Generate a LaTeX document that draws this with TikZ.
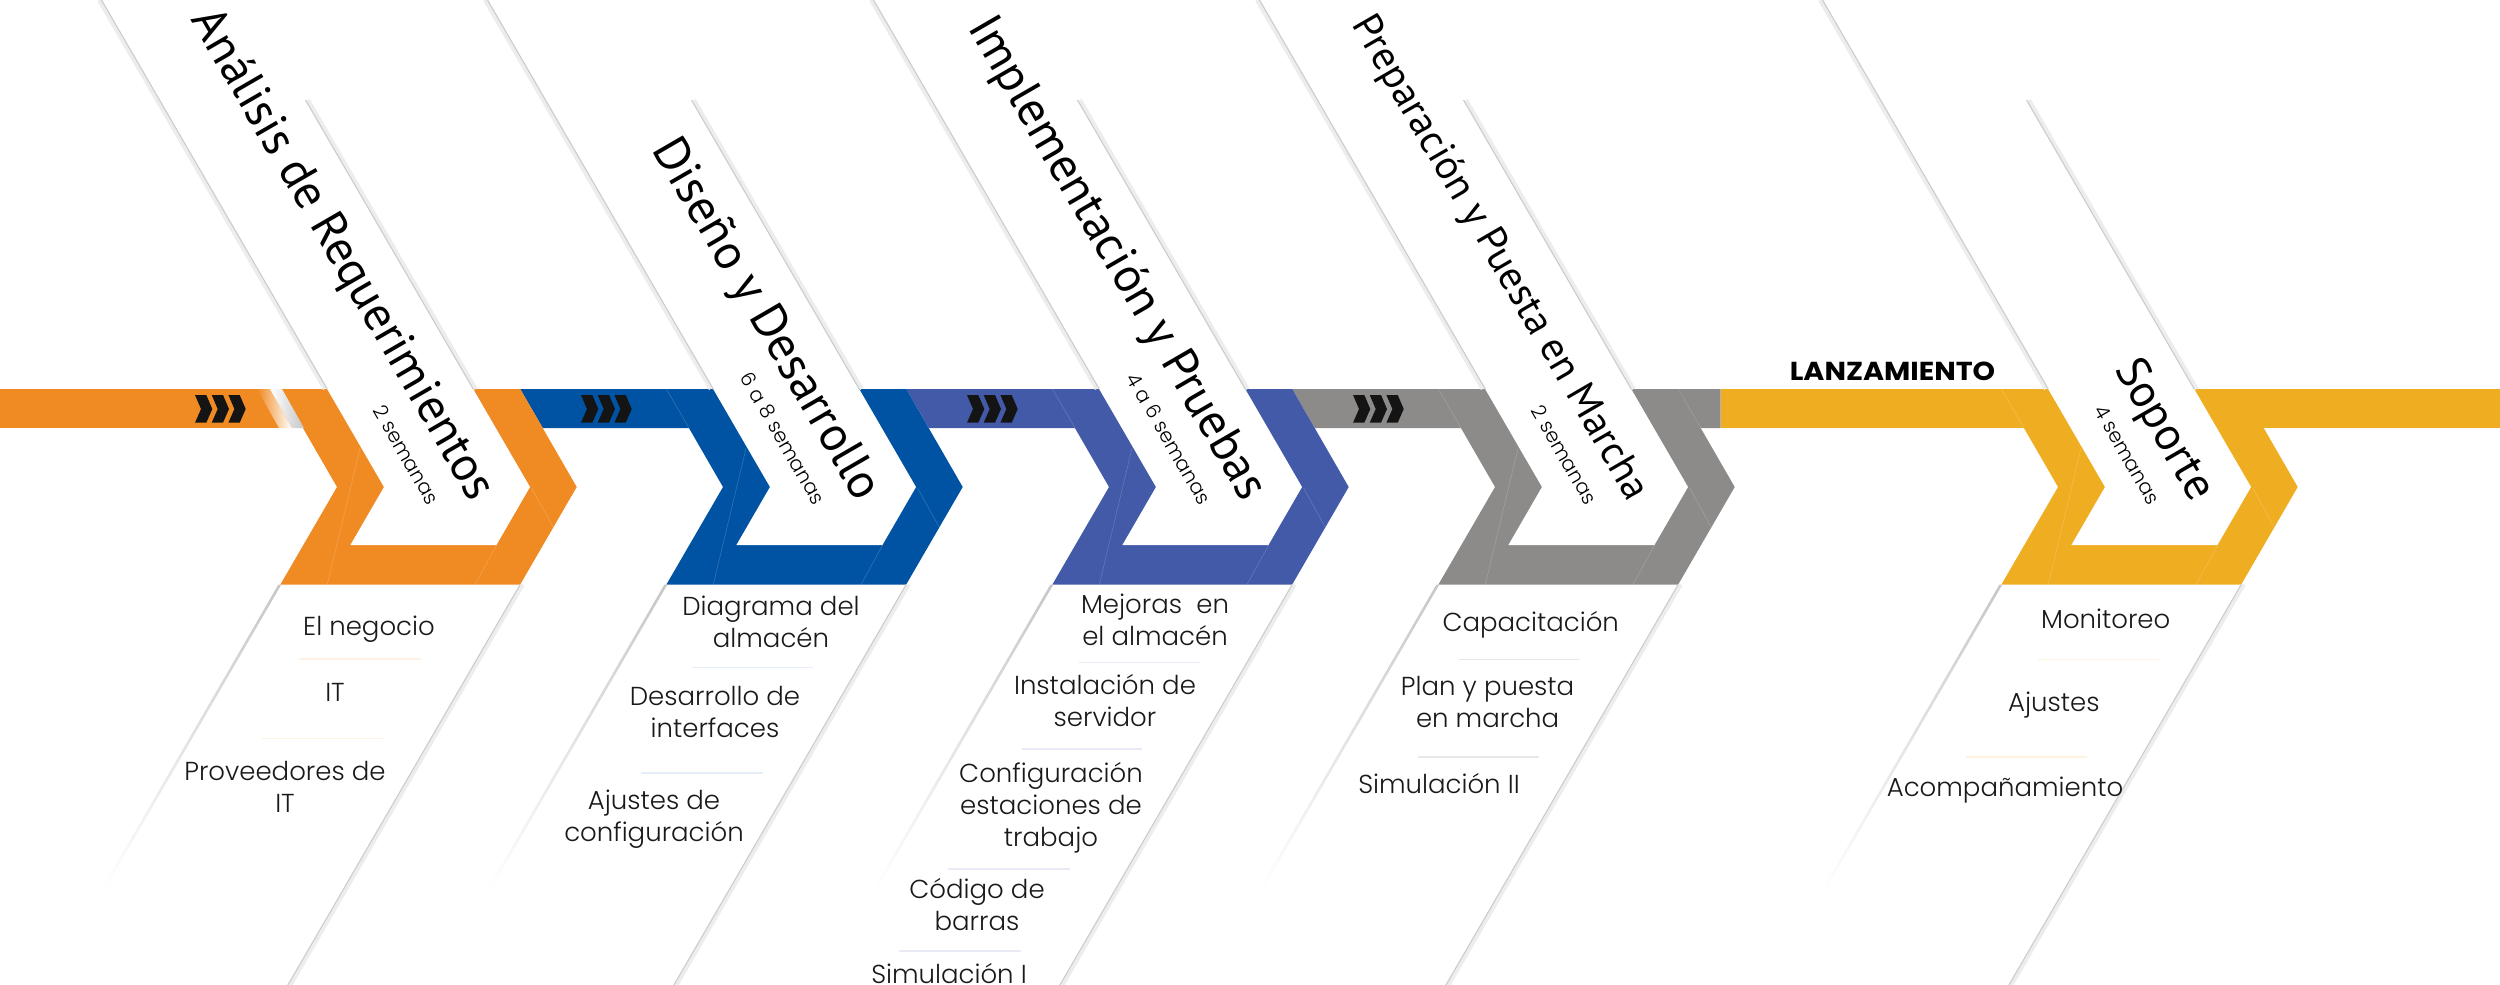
\documentclass[tikz,border=0pt]{standalone}
\usepackage{fontspec}
\usepackage{graphicx}
\newfontfamily\titlefont{PT Sans}
\newfontfamily\boldfont{Poppins}
\IfFontExistsTF{Poppins Light}{\newfontfamily\itemfont{Poppins Light}}{\newfontfamily\itemfont{Poppins}}
\definecolor{cOrange}{RGB}{240,139,35}
\definecolor{cBlue}{RGB}{0,83,163}
\definecolor{cIndigo}{RGB}{66,90,167}
\definecolor{cGray}{RGB}{140,139,137}
\definecolor{cYellow}{RGB}{239,174,33}
\newcommand{\itx}[1]{\begin{tabular}[t]{@{}c@{}}#1\end{tabular}}
\begin{document}
\begin{tikzpicture}[x=1pt,y=-1pt,
  item/.style={font=\itemfont\fontsize{26}{32}\selectfont, text=black!90, inner sep=0pt, anchor=base},
  ttl/.style={font=\titlefont\fontsize{50}{60}\selectfont, text=black, inner sep=0pt, anchor=base east, rotate=-59.9},
  sub/.style={font=\itemfont\fontsize{20}{24}\selectfont, text=black, inner sep=0pt, anchor=base east, rotate=-59.9},
  sepline/.style={line width=1.6pt},
  edgeline/.style={draw=black!20, line width=1.1pt},
  edgeblur/.style={draw=black!7, line width=4pt},
  seam/.style={draw=white, draw opacity=0.18, line width=0.6pt},
  iconshape/.style={fill=black!92}]
\useasboundingbox (0,0) rectangle (2500,985);
\fill[white] (0,0) rectangle (2500,985);

% ---- bands
\fill[cOrange] (0,389) rectangle (384,428);
\fill[cBlue] (520.2,389) -- (770,389) -- (770,428) -- (542.8,428) -- cycle;
\fill[cIndigo] (906.2,389) -- (1156,389) -- (1156,428) -- (928.8,428) -- cycle;
\fill[cGray] (1292.2,389) -- (1542,389) -- (1542,428) -- (1314.8,428) -- cycle;
\fill[cGray] (1678.2,389) -- (1720.5,389) -- (1720.5,428) -- (1700.8,428) -- cycle;
\fill[cYellow] (1720.5,389) rectangle (2500,428);

% ---- chevrons
\foreach \N/\c in {384/cOrange,770/cBlue,1156/cIndigo,1542/cGray,2105/cYellow}{
  \fill[\c] (\N-103.6,389) -- (\N-47,487) -- (\N-103.6,584.5) -- (\N+136.2,584.5)
     -- (\N+192.7,487) -- (\N+136.2,389) -- cycle;
  \draw[seam] (\N-103.6,389) -- (\N-81,428);
  \draw[seam] (\N-24,448.3) -- (\N-56.7,584.5);
  \draw[seam] (\N+112.7,545) -- (\N+91,584.5);
  \draw[seam] (\N+147.7,488.3) -- (\N+169,526.7);
}

% ---- glint on the first band
\shade[left color=cOrange, right color=white] (257,389) -- (270,389) -- (292,428) -- (279,428) -- cycle;
\shade[left color=white, right color=black!22] (270,389) -- (282,389) -- (304,428) -- (292,428) -- cycle;

% ---- white strips and their soft edges
\foreach \N in {384,770,1156,1542,2105}{
  \fill[white] (\N-282.5,0) -- (\N,487) -- (\N-33.6,545) -- (\N+112.4,545)
     -- (\N+146,487) -- (\N-136.5,0) -- cycle;
  \draw[edgeblur] (\N-285,0) -- (\N-59.3,389);
  \draw[edgeline] (\N-282.5,0) -- (\N-56.8,389);
  \draw[edgeblur] (\N-76,100) -- (\N+91.7,389);
  \draw[edgeline] (\N-78.5,100) -- (\N+89.2,389);
  \draw[edgeblur] (\N+138.7,584.5) -- (\N-93.6,985);
  \draw[edgeline] (\N+136.2,584.5) -- (\N-96.1,985);
  \shade[top color=black!22, bottom color=white] (\N-105.6,584.5) -- (\N-102.6,584.5)
     -- (\N-279.5,889.5) -- (\N-282.5,889.5) -- cycle;
}

% ---- >>> icons
\foreach \N in {384,770,1156,1542}{
  \foreach \i in {0,1,2}{
    \pgfmathsetmacro\xo{\N-189+16.7*\i}
    \fill[iconshape] (\xo,395) -- (\xo+11.3,395) -- (\xo+17.3,409) -- (\xo+11.3,422.7)
       -- (\xo,422.7) -- (\xo+6,409) -- cycle;
  }
}

% ---- titles
\node[ttl] (t1) at (471,503.5) {\resizebox{559pt}{!}{Análisis de Requerimientos}};
\node[ttl] (t2) at (857,503.5) {\resizebox{409pt}{!}{Diseño y Desarrollo}};
\node[ttl] (t3) at (1243,503.5) {\resizebox{550pt}{!}{Implementación y Pruebas}};
\node[ttl] (t4) at (1629,503.5) {\resizebox{553pt}{!}{Preparación y Puesta en Marcha}};
\node[ttl] (t5) at (2192,503.5) {\resizebox{155pt}{!}{Soporte}};
\node[sub] (d1) at (428,506) {2 semanas};
\node[sub] (d2) at (814,506) {6 a 8 semanas};
\node[sub] (d3) at (1200,506) {4 a 6 semanas};
\node[sub] (d4) at (1586,506) {2 semanas};
\node[sub] (d5) at (2149,506) {4 semanas};

\node[font=\boldfont\bfseries\fontsize{26}{30}\selectfont, inner sep=0pt, anchor=base] (lz) at (1892.5,380) {\scalebox{1.1}[1]{LANZAMIENTO}};

% ---- stage 1 items
\node[item] (s1a) at (369,635) {\itx{El negocio}};
\node[item] (s1b) at (335,701.7) {\itx{IT}};
\node[item] (s1c) at (285,780) {\itx{Proveedores de\\IT}};
\draw[sepline, cOrange!12] (299.6,659) -- (420.5,659);
\draw[sepline, cOrange!12] (261.6,738.3) -- (383,738.3);

% ---- stage 2 items
\node[item] (s2a) at (771,615) {\itx{Diagrama del\\almacén}};
\node[item] (s2b) at (715,705) {\itx{Desarrollo de\\interfaces}};
\node[item] (s2c) at (654,809.3) {\itx{Ajustes de\\configuración}};
\draw[sepline, cBlue!10] (692,667.3) -- (813,667.3);
\draw[sepline, cBlue!10] (641,772.7) -- (763,772.7);

% ---- stage 3 items
\node[item] (s3a) at (1155,613.3) {\itx{Mejoras\ \ en\\el almacén}};
\node[item] (s3b) at (1105,694) {\itx{Instalación de\\servidor}};
\node[item] (s3c) at (1051,782.3) {\itx{Configuración\\estaciones de\\trabajo}};
\node[item] (s3d) at (977,898.3) {\itx{Código de\\barras}};
\node[item] (s3e) at (949,983.3) {\itx{Simulación I}};
\draw[sepline, cIndigo!12] (1078.6,662.3) -- (1199.6,662.3);
\draw[sepline, cIndigo!12] (1022,749) -- (1142,749);
\draw[sepline, cIndigo!12] (948,869) -- (1069.6,869);
\draw[sepline, cIndigo!12] (899,950.7) -- (1020.5,950.7);

% ---- stage 4 items
\node[item] (s4a) at (1530.7,631.7) {\itx{Capacitación}};
\node[item] (s4b) at (1487.6,695) {\itx{Plan y puesta\\en marcha}};
\node[item] (s4c) at (1439,793.3) {\itx{Simulación II}};
\draw[sepline, cGray!20] (1459,659.5) -- (1580,659.5);
\draw[sepline, cGray!20] (1417.5,757) -- (1538.7,757);

% ---- stage 5 items
\node[item] (s5a) at (2105.7,628) {\itx{Monitoreo}};
\node[item] (s5b) at (2053.8,711.7) {\itx{Ajustes}};
\node[item] (s5c) at (2005,796.5) {\itx{Acompañamiento}};
\draw[sepline, cYellow!15] (2038,659.5) -- (2159,659.5);
\draw[sepline, cYellow!15] (1966,757) -- (2087,757);
\end{tikzpicture}
\end{document}
